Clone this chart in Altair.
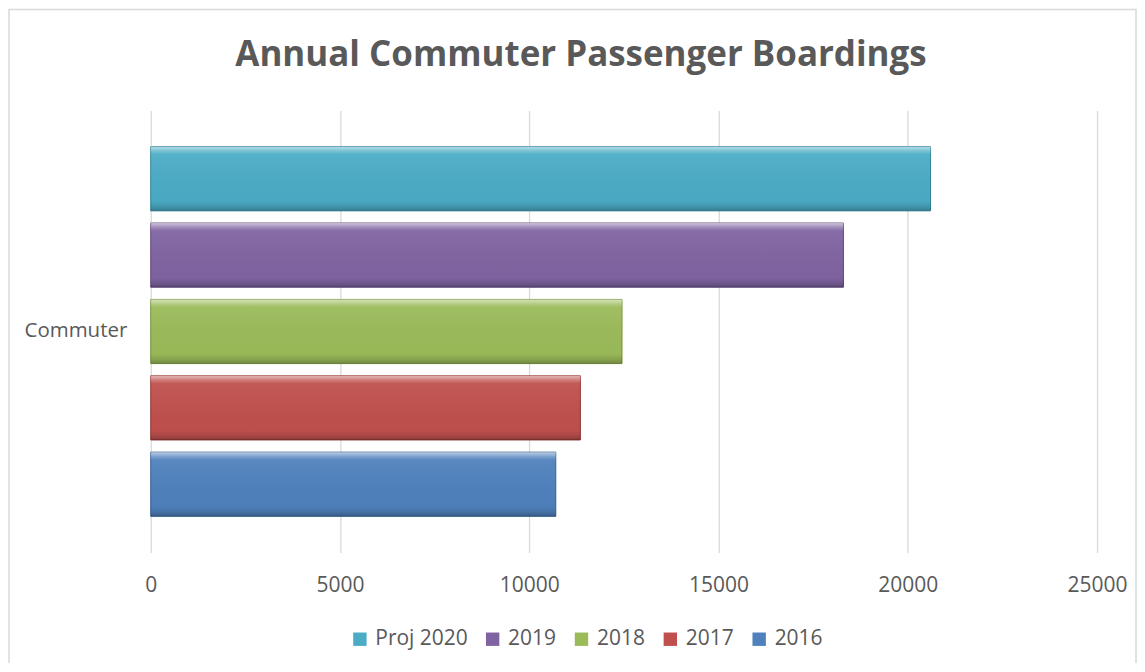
import altair as alt
import pandas as pd

category = ["Commuter"] * 5
series = ["Proj 2020", "2019", "2018", "2017", "2016"]
values = [20600, 18300, 12450, 11350, 10700]
fill_colors = ["#4BACC6", "#8064A2", "#9BBB59", "#C0504D", "#4F81BD"]
edge_colors = ["#31859C", "#5F497A", "#76923C", "#943634", "#365F91"]
x_ticks = [0, 5000, 10000, 15000, 20000, 25000]
title_text = "Annual Commuter Passenger Boardings"

df = pd.DataFrame({"category": category, "series": series, "value": values})

FONT = "Open Sans"
TXT = "#595959"
W, H = 948, 443

x_enc = alt.X("value:Q",
              scale=alt.Scale(domain=[0, 25000], nice=False),
              axis=alt.Axis(values=x_ticks, format="d", title=None, domain=False, ticks=False,
                            grid=True, gridColor="#D9D9D9", gridWidth=1.3,
                            labelFont=FONT, labelFontSize=21, labelColor=TXT,
                            labelPadding=22, labelFlush=False))
y_enc = alt.Y("category:N",
              scale=alt.Scale(paddingInner=0, paddingOuter=0.079),
              axis=alt.Axis(title=None, domain=False, ticks=False, grid=False,
                            labelFont=FONT, labelFontSize=20.5, labelColor=TXT,
                            labelPadding=24))
yoff_enc = alt.YOffset("series:N", sort=series,
                       scale=alt.Scale(paddingInner=0.16, paddingOuter=0.08))

bars = alt.Chart(df).mark_bar(strokeWidth=1).encode(
    x=x_enc, y=y_enc, yOffset=yoff_enc,
    color=alt.Color("series:N", sort=series,
                    scale=alt.Scale(domain=series, range=fill_colors),
                    legend=alt.Legend(title=None, orient="none", direction="horizontal",
                                      legendX=199, legendY=519,
                                      symbolType="square", symbolSize=180,
                                      symbolStrokeWidth=0,
                                      labelFont=FONT, labelFontSize=21, labelColor=TXT,
                                      labelOffset=5, columnPadding=14)),
    stroke=alt.Stroke("series:N", sort=series,
                      scale=alt.Scale(domain=series, range=edge_colors),
                      legend=None),
)

bevel = alt.Chart(df).mark_bar(
    color=alt.Gradient(
        gradient="linear", x1=0, y1=0, x2=0, y2=1,
        stops=[
            alt.GradientStop(offset=0, color="rgba(255,255,255,0.6)"),
            alt.GradientStop(offset=0.07, color="rgba(255,255,255,0.25)"),
            alt.GradientStop(offset=0.12, color="rgba(255,255,255,0.06)"),
            alt.GradientStop(offset=0.85, color="rgba(0,0,0,0.02)"),
            alt.GradientStop(offset=0.93, color="rgba(0,0,0,0.12)"),
            alt.GradientStop(offset=1, color="rgba(0,0,0,0.28)"),
        ])
).encode(x=x_enc, y=y_enc, yOffset=yoff_enc)

frame_df = pd.DataFrame({"f": [0]})
frame = alt.Chart(frame_df).mark_rect(fill=None, stroke="#D9D9D9", strokeWidth=1.5).encode(
    x=alt.value(-142), x2=alt.value(W + 39),
    y=alt.value(-101), y2=alt.value(H + 112),
)

title = alt.Chart(frame_df).mark_text(
    text=title_text, font=FONT, fontSize=35, fontWeight="bold", color=TXT,
    align="center", baseline="alphabetic"
).encode(x=alt.value(431), y=alt.value(-44))

chart = alt.layer(frame, bars, bevel, title).properties(
    width=W, height=H,
    autosize=alt.AutoSizeParams(type="none"),
    padding={"left": 143, "top": 102, "right": 40, "bottom": 110},
).configure_view(stroke=None)

chart.save("out.html", embed_options={"renderer": "svg", "actions": False})
